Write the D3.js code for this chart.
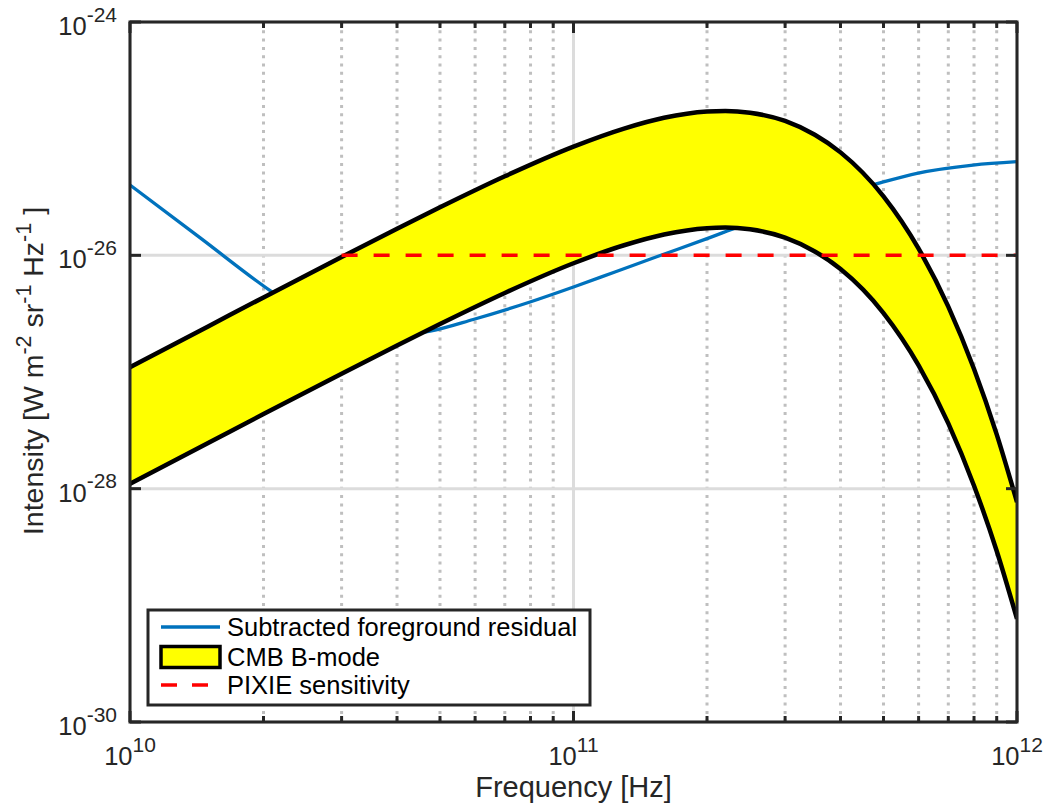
<!DOCTYPE html>
<html>
<head>
<meta charset="utf-8">
<script src="https://cdn.jsdelivr.net/npm/d3@7"></script>
<style>
  body { margin: 0; background: #fff; }
  svg { display: block; font-family: "Liberation Sans", Arial, Helvetica, sans-serif; }
</style>
</head>
<body>
<div id="chart"></div>
<script>
// 1: DATA (frequencies in GHz, intensities in W m^-2 sr^-1 Hz^-1)
const bandFreq = [10, 15, 20, 30, 40, 50, 70, 100, 130, 160, 200, 220, 250, 300, 350, 400, 500, 600, 700, 800, 900, 1000];
const bandUpper = [1.10e-27, 2.46e-27, 4.36e-27, 9.68e-27, 1.69e-26, 2.58e-26, 4.76e-26, 8.55e-26, 1.22e-25, 1.51e-25,
    1.71e-25, 1.73e-25, 1.67e-25, 1.42e-25, 1.08e-25, 7.63e-26, 3.20e-26, 1.14e-26, 3.63e-27, 1.06e-27, 2.92e-28, 7.66e-29];
const bandLower = [1.10e-28, 2.46e-28, 4.36e-28, 9.68e-28, 1.69e-27, 2.58e-27, 4.76e-27, 8.55e-27, 1.22e-26, 1.51e-26,
    1.71e-26, 1.73e-26, 1.67e-26, 1.42e-26, 1.08e-26, 7.63e-27, 3.20e-27, 1.14e-27, 3.63e-28, 1.06e-28, 2.92e-29, 7.66e-30];

const residualFreq = [10, 14.4, 20.7, 24.2, 28.3, 33, 38.6, 47.5, 59.4, 79.8, 100, 124, 154, 200, 237, 324, 399, 478, 595, 796, 1000];
const residualVals = [4.01e-26, 1.41e-26, 4.98e-27, 3.37e-27, 2.54e-27, 2.15e-27, 2.03e-27, 2.24e-27, 2.82e-27, 3.98e-27,
    5.35e-27, 7.20e-27, 9.72e-27, 1.39e-26, 1.77e-26, 2.66e-26, 3.37e-26, 4.06e-26, 5.05e-26, 5.94e-26, 6.35e-26];

const pixieFreq = [30, 1000];
const pixieVals = [1e-26, 1e-26];

const xTicks = [1e10, 1e11, 1e12];
const yTicks = [1e-30, 1e-28, 1e-26, 1e-24];

const legendLabels = ["Subtracted foreground residual", "CMB B-mode", "PIXIE sensitivity"];

// 2: SETUP
const margin = { top: 22, right: 34, bottom: 87, left: 130 };
const width = 1051 - margin.left - margin.right;
const height = 809 - margin.top - margin.bottom;

const svgRoot = d3.select("#chart")
    .append("svg")
    .attr("width", width + margin.left + margin.right)
    .attr("height", height + margin.top + margin.bottom);

const svg = svgRoot.append("g")
    .attr("transform", `translate(${margin.left},${margin.top})`);

const xScale = d3.scaleLog().domain([1e10, 1e12]).range([0, width]);
const yScale = d3.scaleLog().domain([1e-30, 1e-24]).range([height, 0]);

svgRoot.append("defs").append("clipPath")
    .attr("id", "plotClip")
    .append("rect")
    .attr("width", width)
    .attr("height", height);

// 3: GRID
const isMajorX = d => xTicks.some(t => Math.abs(t - d) / t < 1e-6);
const minorX = xScale.ticks().filter(d => !isMajorX(d));
const grid = svg.append("g");
grid.selectAll(".minor-x")
    .data(minorX)
    .enter()
    .append("line")
    .attr("x1", d => xScale(d))
    .attr("x2", d => xScale(d))
    .attr("y1", 0)
    .attr("y2", height)
    .style("stroke", "#bfbfbf")
    .style("stroke-width", 3)
    .style("stroke-dasharray", "3,5.3");
grid.selectAll(".major-x")
    .data(xTicks)
    .enter()
    .append("line")
    .attr("x1", d => xScale(d))
    .attr("x2", d => xScale(d))
    .attr("y1", 0)
    .attr("y2", height)
    .style("stroke", "#dcdcdc")
    .style("stroke-width", 3);
grid.selectAll(".major-y")
    .data(yTicks)
    .enter()
    .append("line")
    .attr("x1", 0)
    .attr("x2", width)
    .attr("y1", d => yScale(d))
    .attr("y2", d => yScale(d))
    .style("stroke", "#dcdcdc")
    .style("stroke-width", 3);

// 4: SERIES
const plot = svg.append("g").attr("clip-path", "url(#plotClip)");

const residualData = residualFreq.map((f, i) => ({ f: f * 1e9, v: residualVals[i] }));
const bandData = bandFreq.map((f, i) => ({ f: f * 1e9, hi: bandUpper[i], lo: bandLower[i] }));
const pixieData = pixieFreq.map((f, i) => ({ f: f * 1e9, v: pixieVals[i] }));

const line = d3.line()
    .x(d => xScale(d.f))
    .y(d => yScale(d.v))
    .curve(d3.curveMonotoneX);

plot.append("path")
    .datum(residualData)
    .attr("d", line)
    .style("fill", "none")
    .style("stroke", "#0072BD")
    .style("stroke-width", 3.3);

const area = d3.area()
    .x(d => xScale(d.f))
    .y0(d => yScale(d.lo))
    .y1(d => yScale(d.hi))
    .curve(d3.curveMonotoneX);

plot.append("path")
    .datum(bandData)
    .attr("d", area)
    .style("fill", "#ffff00")
    .style("stroke", "none");

["hi", "lo"].forEach(key => {
    plot.append("path")
        .datum(bandData)
        .attr("d", d3.line()
            .x(d => xScale(d.f))
            .y(d => yScale(d[key]))
            .curve(d3.curveMonotoneX))
        .style("fill", "none")
        .style("stroke", "#000")
        .style("stroke-width", 4.5);
});

plot.append("path")
    .datum(pixieData)
    .attr("d", line)
    .style("fill", "none")
    .style("stroke", "#ff0000")
    .style("stroke-width", 3.5)
    .style("stroke-dasharray", "16,16");

// 5: AXES BOX AND TICKS
const axisColor = "#262626";
svg.append("rect")
    .attr("width", width)
    .attr("height", height)
    .style("fill", "none")
    .style("stroke", axisColor)
    .style("stroke-width", 3);

const ticks = svg.append("g").style("stroke", axisColor).style("stroke-width", 3);
xScale.ticks().forEach(d => {
    const len = isMajorX(d) ? 11 : 6;
    ticks.append("line").attr("x1", xScale(d)).attr("x2", xScale(d)).attr("y1", height).attr("y2", height - len);
    ticks.append("line").attr("x1", xScale(d)).attr("x2", xScale(d)).attr("y1", 0).attr("y2", len);
});
yTicks.forEach(d => {
    ticks.append("line").attr("x1", 0).attr("x2", 11).attr("y1", yScale(d)).attr("y2", yScale(d));
    ticks.append("line").attr("x1", width).attr("x2", width - 11).attr("y1", yScale(d)).attr("y2", yScale(d));
});

// tick labels with superscript exponents
const expOf = d => Math.round(Math.log10(d));
const xLabels = svg.selectAll(".x-label")
    .data(xTicks)
    .enter()
    .append("text")
    .attr("x", d => xScale(d))
    .attr("y", height + 43)
    .attr("text-anchor", "middle")
    .style("fill", axisColor)
    .style("font-size", "25.5px");
xLabels.append("tspan").text("10");
xLabels.append("tspan").attr("dy", -13.5).style("font-size", "21px").text(d => expOf(d));

const yLabels = svg.selectAll(".y-label")
    .data(yTicks)
    .enter()
    .append("text")
    .attr("x", -13)
    .attr("y", d => yScale(d) + 13)
    .attr("text-anchor", "end")
    .style("fill", axisColor)
    .style("font-size", "25.5px");
yLabels.append("tspan").text("10");
yLabels.append("tspan").attr("dy", -13.5).style("font-size", "21px").text(d => "-" + Math.abs(expOf(d)));

// 6: AXIS TITLES
svg.append("text")
    .text("Frequency [Hz]")
    .attr("x", width / 2)
    .attr("y", height + 75)
    .attr("text-anchor", "middle")
    .style("fill", axisColor)
    .style("font-size", "29px");

const yTitle = svg.append("text")
    .attr("transform", `translate(${43 - margin.left}, ${371 - margin.top}) rotate(-90)`)
    .attr("text-anchor", "middle")
    .style("fill", axisColor)
    .style("font-size", "28.5px");
yTitle.append("tspan").text("Intensity [W m");
yTitle.append("tspan").attr("dy", -12).style("font-size", "21.5px").text("-2");
yTitle.append("tspan").attr("dy", 12).text(" sr");
yTitle.append("tspan").attr("dy", -12).style("font-size", "21.5px").text("-1");
yTitle.append("tspan").attr("dy", 12).text(" Hz");
yTitle.append("tspan").attr("dy", -12).style("font-size", "21.5px").text("-1");
yTitle.append("tspan").attr("dy", 12).text(" ]");

// 7: LEGEND
const legend = svg.append("g").attr("transform", `translate(${148 - margin.left}, ${610 - margin.top})`);
legend.append("rect")
    .attr("width", 442)
    .attr("height", 95)
    .style("fill", "#fff")
    .style("stroke", axisColor)
    .style("stroke-width", 3);

const rowY = [17, 46.5, 75];
legend.append("line")
    .attr("x1", 13).attr("x2", 72).attr("y1", rowY[0]).attr("y2", rowY[0])
    .style("stroke", "#0072BD").style("stroke-width", 3.3);
legend.append("rect")
    .attr("x", 13).attr("y", rowY[1] - 10).attr("width", 59).attr("height", 21)
    .style("fill", "#ffff00").style("stroke", "#000").style("stroke-width", 3.5);
legend.append("line")
    .attr("x1", 13).attr("x2", 72).attr("y1", rowY[2]).attr("y2", rowY[2])
    .style("stroke", "#ff0000").style("stroke-width", 3.5).style("stroke-dasharray", "16,15");

legend.selectAll(".legend-text")
    .data(legendLabels)
    .enter()
    .append("text")
    .text(d => d)
    .attr("x", 79)
    .attr("y", (d, i) => rowY[i] + 9)
    .style("fill", "#000")
    .style("font-size", "25.5px");
</script>
</body>
</html>
